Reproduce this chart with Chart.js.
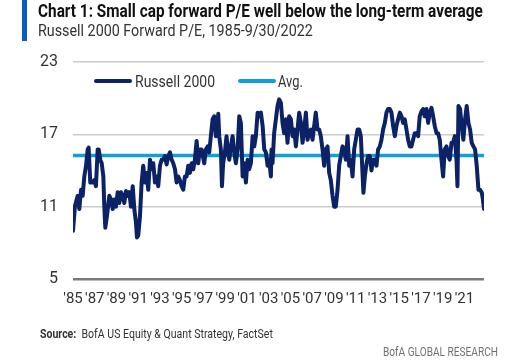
<!DOCTYPE html>
<html>
<head>
<meta charset="utf-8">
<script src="https://cdn.jsdelivr.net/npm/chart.js@4/dist/chart.umd.min.js"></script>
<style>
  body { margin: 0; background: #fff; font-family: "Roboto", "Liberation Sans", sans-serif; }
  #wrap { position: relative; width: 523px; height: 363px; overflow: hidden; }
  #chart { position: absolute; left: 0; top: 0; }
  .abs { position: absolute; white-space: nowrap; transform-origin: 0 0; }
  #bar { left: 22px; top: 0; width: 5px; height: 41px; background: #0b5bc5; }
  #title { left: 38px; top: 0px; font-size: 18px; font-weight: bold; color: #111; }
  #subtitle { left: 38px; top: 21px; font-size: 16.5px; color: #333; }
  .legend { top: 71px; font-size: 17px; color: #333; }
  .swatch { position: absolute; width: 38px; height: 4px; border-radius: 2px; top: 79px; }
  #source { left: 40px; top: 327px; font-size: 12px; color: #333; }
  #brand { left: 383px; top: 344px; font-size: 12.5px; color: #707070; }
</style>
</head>
<body>
<div id="wrap">
  <canvas id="chart" width="523" height="363"></canvas>
  <div id="bar" class="abs"></div>
  <div id="title" class="abs fit" data-w="445">Chart 1: Small cap forward P/E well below the long-term average</div>
  <div id="subtitle" class="abs fit" data-w="275">Russell 2000 Forward P/E, 1985-9/30/2022</div>
  <div class="swatch" style="left:94px;background:#0c2266"></div>
  <div class="abs legend fit" data-w="80" style="left:135px">Russell 2000</div>
  <div class="swatch" style="left:238px;background:#10a0d9"></div>
  <div class="abs legend fit" data-w="25" style="left:278px">Avg.</div>
  <div id="source" class="abs fit" data-w="233"><b>Source:</b>&nbsp; BofA US Equity &amp; Quant Strategy, FactSet</div>
  <div id="brand" class="abs fit" data-w="115">BofA GLOBAL RESEARCH</div>
</div>
<script>
// Russell 2000 forward P/E (fractional years).
var years = [
  1985.0, 1985.18, 1985.43, 1985.58, 1985.74, 1985.89, 1986.04, 1986.2, 1986.35, 1986.44,
  1986.59, 1986.81, 1986.96, 1987.11, 1987.27, 1987.36, 1987.51, 1987.64, 1987.79, 1987.88,
  1987.97, 1988.12, 1988.34, 1988.49, 1988.65, 1988.8, 1988.95, 1989.11, 1989.26, 1989.41,
  1989.57, 1989.72, 1989.87, 1990.03, 1990.18, 1990.33, 1990.49, 1990.64, 1990.79, 1990.88,
  1991.0, 1991.16, 1991.31, 1991.46, 1991.62, 1991.77, 1991.92, 1992.08, 1992.23, 1992.38,
  1992.54, 1992.69, 1992.84, 1993.0, 1993.15, 1993.3, 1993.46, 1993.61, 1993.76, 1993.92,
  1994.07, 1994.22, 1994.38, 1994.53, 1994.68, 1994.83, 1994.99, 1995.14, 1995.29, 1995.45,
  1995.6, 1995.75, 1995.91, 1996.06, 1996.21, 1996.37, 1996.52, 1996.67, 1996.83, 1997.07,
  1997.22, 1997.38, 1997.53, 1997.68, 1997.84, 1997.99, 1998.14, 1998.3, 1998.36, 1998.45,
  1998.6, 1998.7, 1998.81, 1998.97, 1999.12, 1999.22, 1999.37, 1999.52, 1999.68, 1999.83,
  1999.98, 2000.14, 2000.29, 2000.44, 2000.6, 2000.75, 2000.9, 2001.06, 2001.2, 2001.36,
  2001.52, 2001.67, 2001.82, 2001.98, 2002.13, 2002.28, 2002.44, 2002.59, 2002.74, 2002.9,
  2003.05, 2003.2, 2003.26, 2003.35, 2003.5, 2003.66, 2003.81, 2003.96, 2004.12, 2004.27,
  2004.42, 2004.58, 2004.73, 2004.88, 2005.04, 2005.19, 2005.34, 2005.5, 2005.65, 2005.8,
  2005.96, 2006.11, 2006.26, 2006.42, 2006.57, 2006.72, 2006.88, 2007.03, 2007.18, 2007.33,
  2007.49, 2007.64, 2007.79, 2007.95, 2008.1, 2008.25, 2008.41, 2008.56, 2008.71, 2008.87,
  2009.02, 2009.17, 2009.33, 2009.48, 2009.63, 2009.79, 2009.94, 2010.09, 2010.25, 2010.4,
  2010.55, 2010.71, 2010.86, 2011.01, 2011.17, 2011.32, 2011.47, 2011.71, 2011.84, 2012.0,
  2012.14, 2012.3, 2012.45, 2012.6, 2012.76, 2012.91, 2013.06, 2013.22, 2013.37, 2013.52,
  2013.68, 2013.83, 2013.98, 2014.14, 2014.29, 2014.44, 2014.6, 2014.75, 2014.9, 2015.06,
  2015.21, 2015.36, 2015.51, 2015.67, 2015.82, 2015.97, 2016.13, 2016.28, 2016.43, 2016.59,
  2016.74, 2016.89, 2017.05, 2017.2, 2017.35, 2017.51, 2017.66, 2017.81, 2017.97, 2018.12,
  2018.27, 2018.43, 2018.58, 2018.73, 2018.89, 2019.04, 2019.19, 2019.35, 2019.5, 2019.65,
  2019.81, 2019.96, 2020.11, 2020.27, 2020.36, 2020.45, 2020.6, 2020.75, 2020.9, 2021.06,
  2021.21, 2021.37, 2021.52, 2021.67, 2021.83, 2021.98, 2022.13, 2022.29, 2022.44, 2022.6,
  2022.7, 2022.8
];
var russell2000 = [
  9.0, 11.05, 11.9, 10.8, 12.4, 11.9, 13.5, 14.4, 15.75, 15.9,
  13.0, 13.0, 13.2, 12.7, 15.75, 15.75, 14.9, 14.6, 13.5, 11.0,
  9.25, 10.2, 11.9, 11.6, 10.8, 11.6, 11.0, 12.2, 11.3, 12.2,
  11.9, 11.3, 12.3, 11.9, 12.2, 11.0, 12.7, 10.8, 9.7, 8.45,
  8.6, 10.2, 13.0, 14.4, 13.0, 13.8, 12.4, 14.9, 14.1, 14.6,
  13.0, 13.5, 12.7, 14.4, 14.9, 14.9, 15.2, 14.5, 15.2, 15.5,
  14.9, 14.6, 14.1, 13.0, 13.5, 13.2, 12.7, 12.4, 13.5, 13.5,
  14.4, 13.8, 14.6, 14.1, 14.9, 16.45, 14.6, 15.75, 15.75, 14.6,
  15.75, 16.0, 15.5, 16.85, 18.25, 18.5, 16.85, 17.95, 18.7, 16.85,
  15.75, 12.7, 14.6, 15.5, 16.85, 15.75, 14.9, 16.0, 16.85, 15.5,
  14.6, 15.75, 18.5, 17.95, 13.5, 14.6, 13.0, 14.9, 14.1, 14.6,
  16.85, 16.0, 16.85, 18.8, 18.5, 18.8, 17.7, 15.75, 15.5, 14.4,
  14.9, 13.5, 15.75, 14.6, 17.1, 18.25, 19.35, 19.9, 19.6, 17.95,
  17.1, 18.25, 16.3, 18.5, 18.25, 16.85, 17.4, 16.0, 17.4, 18.8,
  17.95, 16.3, 17.4, 18.8, 16.55, 17.1, 17.4, 16.55, 17.7, 18.8,
  17.4, 17.4, 16.85, 15.75, 14.4, 15.75, 16.0, 13.8, 13.2, 11.9,
  11.0, 11.0, 12.4, 14.4, 15.2, 16.0, 15.75, 14.9, 16.85, 14.4,
  14.9, 13.5, 15.75, 16.55, 17.4, 17.4, 16.85, 12.15, 13.5, 14.6,
  15.2, 15.2, 14.0, 14.9, 14.9, 14.4, 15.75, 16.0, 16.55, 17.4,
  17.95, 18.8, 19.1, 19.1, 18.8, 17.7, 16.85, 17.7, 18.25, 18.8,
  18.5, 17.95, 18.25, 17.4, 16.55, 16.0, 16.0, 16.55, 17.1, 17.1,
  16.85, 18.5, 18.9, 19.1, 18.5, 19.1, 17.95, 18.8, 19.2, 18.5,
  17.7, 17.1, 17.1, 16.55, 14.9, 13.5, 15.75, 16.0, 15.2, 14.9,
  16.3, 16.3, 16.85, 14.9, 12.7, 19.35, 19.1, 17.7, 16.55, 18.25,
  19.35, 17.95, 17.4, 16.3, 16.0, 15.75, 14.4, 12.4, 12.4, 12.15,
  11.6, 10.8
];
var avgPE = 15.25;
var tickYears = [1985, 1987, 1989, 1991, 1993, 1995, 1997, 1999, 2001, 2003,
                 2005, 2007, 2009, 2011, 2013, 2015, 2017, 2019, 2021];
var yTicks = [5, 11, 17, 23];

var font = "'Roboto', sans-serif";

// Squeeze the HTML texts to the widths they have in the (condensed) original.
var fitEls = document.querySelectorAll('.fit');
for (var i = 0; i < fitEls.length; i++) {
  var el = fitEls[i];
  var target = parseFloat(el.dataset.w);
  el.style.transform = 'scaleX(' + (target / el.offsetWidth) + ')';
}

var seriesPoints = years.map(function(x, i) { return { x: x, y: russell2000[i] }; });
var avgPoints = [
  { x: years[0], y: avgPE },
  { x: years[years.length - 1], y: avgPE }
];

new Chart(document.getElementById('chart'), {
  type: 'line',
  data: {
    datasets: [{
      label: 'Russell 2000',
      data: seriesPoints,
      borderColor: '#0c2266',
      borderWidth: 4,
      pointRadius: 0,
      tension: 0,
      borderJoinStyle: 'round',
      borderCapStyle: 'round'
    }, {
      label: 'Avg.',
      data: avgPoints,
      borderColor: '#10a0d9',
      borderWidth: 3.5,
      pointRadius: 0
    }]
  },
  options: {
    responsive: false,
    animation: false,
    events: [],
    layout: { padding: { left: 0, right: 39, top: 62, bottom: 0 } },
    plugins: {
      legend: { display: false },
      tooltip: { enabled: false }
    },
    scales: {
      x: {
        type: 'linear',
        min: 1985,
        max: 2022.8,
        afterBuildTicks: function(scale) {
          scale.ticks = tickYears.map(function(v) { return { value: v }; });
        },
        afterFit: function(scale) { scale.height = 84; },
        grid: { display: false, drawTicks: false },
        border: { display: false },
        ticks: {
          autoSkip: false,
          maxRotation: 0,
          padding: 11,
          color: '#333',
          font: { family: font, size: 15 },
          callback: function(v) { return "'" + String(v).slice(2); }
        }
      },
      y: {
        min: 5,
        max: 23,
        afterBuildTicks: function(scale) {
          scale.ticks = yTicks.map(function(v) { return { value: v }; });
        },
        afterFit: function(scale) { scale.width = 73; },
        grid: {
          drawTicks: false,
          color: function(ctx) { return ctx.tick && ctx.tick.value === 5 ? '#7a7a7a' : '#cbcbcb'; },
          lineWidth: function(ctx) { return ctx.tick && ctx.tick.value === 5 ? 2.5 : 1.5; }
        },
        border: { display: false },
        ticks: {
          padding: 15,
          color: '#333',
          font: { family: font, size: 16 }
        }
      }
    }
  }
});
</script>
</body>
</html>
